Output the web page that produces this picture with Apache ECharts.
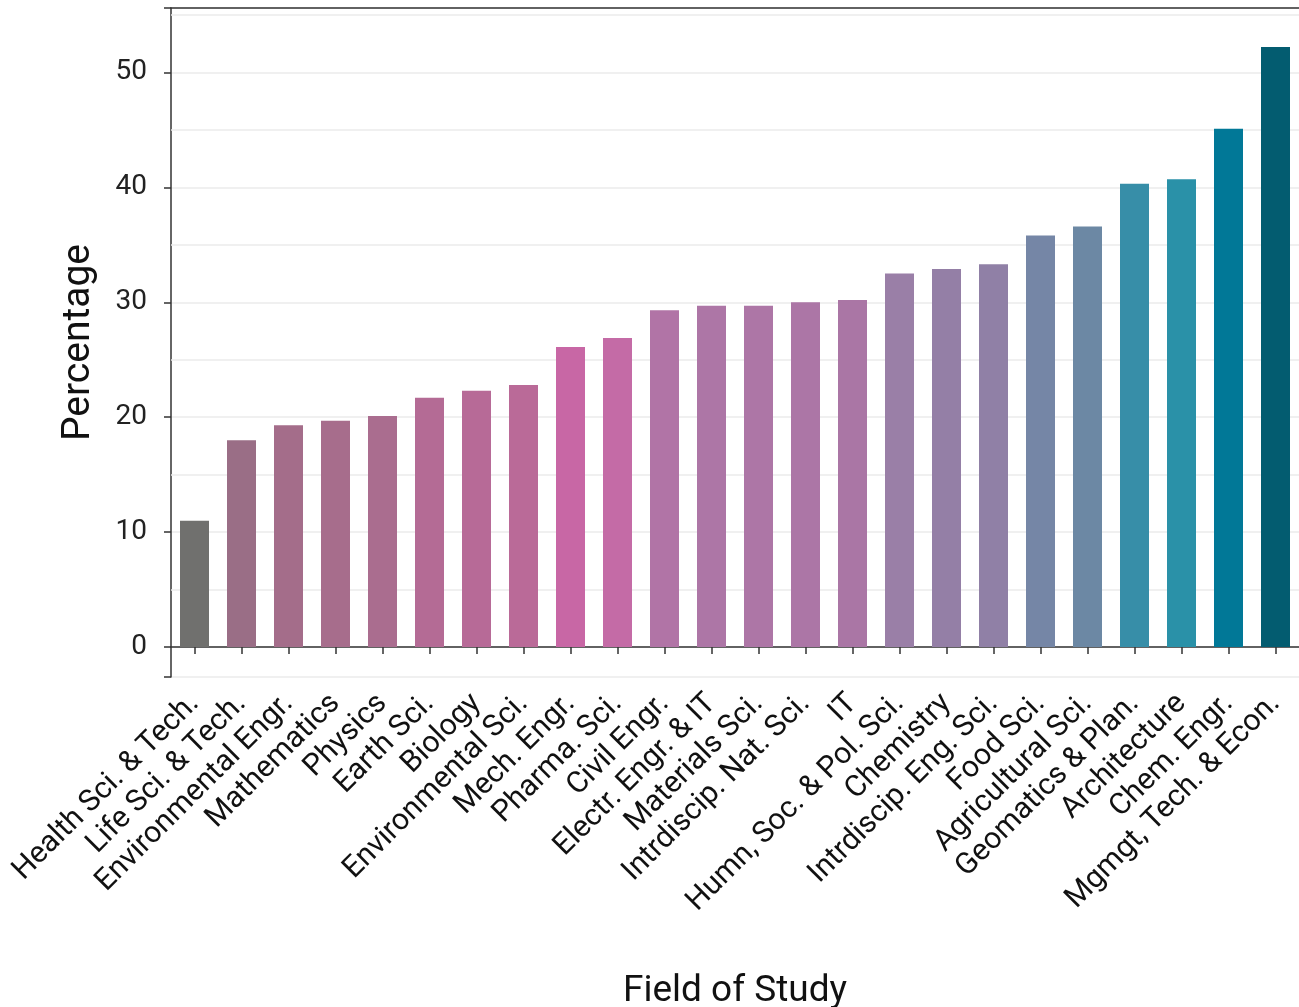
<!DOCTYPE html>
<html>
<head>
<meta charset="utf-8">
<script src="https://cdn.jsdelivr.net/npm/echarts@6/dist/echarts.min.js"></script>
<style>
html,body{margin:0;padding:0;background:#fff;}
#c{width:1299px;height:1007px;}
</style>
</head>
<body>
<div id="c"></div>
<script>
const categories = [
  "Health Sci. & Tech.", "Life Sci. & Tech.", "Environmental Engr.", "Mathematics",
  "Physics", "Earth Sci.", "Biology", "Environmental Sci.", "Mech. Engr.",
  "Pharma. Sci.", "Civil Engr.", "Electr. Engr. & IT", "Materials Sci.",
  "Intrdiscip. Nat. Sci.", "IT", "Humn, Soc. & Pol. Sci.", "Chemistry",
  "Intrdiscip. Eng. Sci.", "Food Sci.", "Agricultural Sci.", "Geomatics & Plan.",
  "Architecture", "Chem. Engr.", "Mgmgt, Tech. & Econ."
];
const values = [11.0, 18.0, 19.3, 19.7, 20.1, 21.7, 22.3, 22.8, 26.1, 26.9, 29.3, 29.7,
                29.7, 30.0, 30.2, 32.5, 32.9, 33.3, 35.8, 36.6, 40.3, 40.7, 45.1, 52.2];
const barColors = ["#70706e", "#9a6e86", "#a46d8a", "#a76d8c", "#aa6d8f", "#b46b95",
                   "#b76a97", "#ba6a98", "#c867a5", "#c46ba6", "#b174a6", "#ad76a6",
                   "#ad76a6", "#ac76a6", "#aa76a5", "#9a7fa7", "#947fa6", "#9080a6",
                   "#7586a6", "#6c88a4", "#378ea8", "#2a91a8", "#017897", "#035c70"];
const yMin = -2.6, yMax = 55.6;
const yTickLabels = [0, 10, 20, 30, 40, 50];
const minorGrid = [5, 15, 25, 35, 45, 55];

const FONT = "Roboto";
const chart = echarts.init(document.getElementById('c'), null, {renderer: 'canvas'});
chart.setOption({
  animation: false,
  backgroundColor: '#ffffff',
  grid: {left: 171, right: 0, top: 8, bottom: 330, containLabel: false, outerBoundsMode: 'none'},
  xAxis: [{
    type: 'category',
    data: categories,
    boundaryGap: true,
    name: 'Field of Study',
    nameLocation: 'middle',
    nameGap: 296,
    nameMoveOverlap: false,
    nameTextStyle: {fontFamily: FONT, fontSize: 37, color: '#111'},
    axisLine: {show: true, lineStyle: {color: '#333', width: 1.5}},
    axisTick: {show: true, alignWithLabel: true, length: 7, lineStyle: {color: '#333', width: 1.5}},
    axisLabel: {rotate: 45, interval: 0, fontFamily: FONT, fontSize: 30, color: '#111', margin: 22},
    splitLine: {show: false}
  }, {
    type: 'category',
    data: categories,
    position: 'top',
    axisLine: {show: true, lineStyle: {color: '#333', width: 1.5}},
    axisTick: {show: false},
    axisLabel: {show: false},
    splitLine: {show: false}
  }],
  yAxis: {
    type: 'value',
    min: yMin,
    max: yMax,
    name: 'Percentage',
    nameLocation: 'middle',
    nameGap: 72,
    nameMoveOverlap: false,
    nameTextStyle: {fontFamily: FONT, fontSize: 39, color: '#111'},
    axisLine: {show: true, lineStyle: {color: '#333', width: 1.5}},
    axisTick: {show: true, length: 7, lineStyle: {color: '#333', width: 1.5}},
    axisLabel: {
      fontFamily: FONT, fontSize: 28, color: '#222', margin: 24,
      formatter: v => (yTickLabels.indexOf(Math.round(v * 100) / 100) >= 0 ? String(v) : '')
    },
    splitLine: {show: true, lineStyle: {color: '#ebebeb', width: 1.5}}
  },
  series: [{
    type: 'bar',
    xAxisIndex: 0,
    barWidth: 29,
    data: values.map((v, i) => ({value: v, itemStyle: {color: barColors[i]}})),
    z: 3,
    markLine: {
      silent: true,
      z: 1,
      symbol: 'none',
      label: {show: false},
      lineStyle: {color: '#ebebeb', width: 1.5, type: 'solid'},
      data: minorGrid.map(v => ({yAxis: v}))
    }
  }]
});
</script>
</body>
</html>
